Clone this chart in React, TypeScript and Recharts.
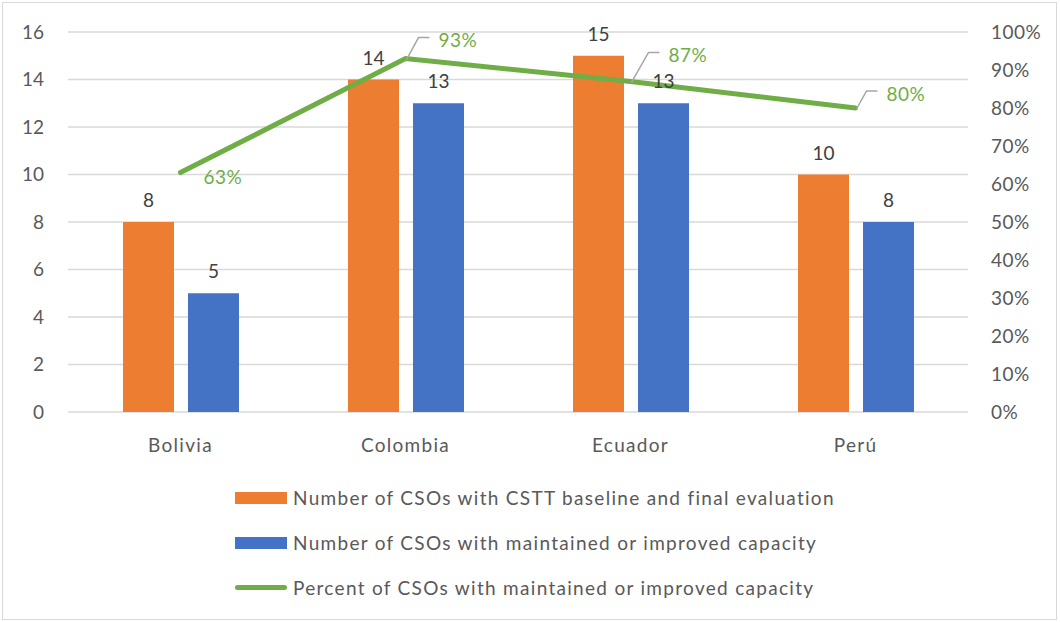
import React from "react";
import {
  ComposedChart,
  Bar,
  Line,
  XAxis,
  YAxis,
  CartesianGrid,
  LabelList,
} from "recharts";

const countries = ["Bolivia", "Colombia", "Ecuador", "Perú"];
const withEvaluation = [8, 14, 15, 10];
const maintainedOrImproved = [5, 13, 13, 8];
const percentMaintained = [0.63, 0.93, 0.87, 0.8];

const countTicks = [0, 2, 4, 6, 8, 10, 12, 14, 16];
const percentTicks = [0, 0.1, 0.2, 0.3, 0.4, 0.5, 0.6, 0.7, 0.8, 0.9, 1];

const seriesNames = [
  "Number of CSOs with CSTT baseline and final evaluation",
  "Number of CSOs with maintained or improved capacity",
  "Percent of CSOs with maintained or improved capacity",
];

const ORANGE = "#ED7D31";
const BLUE = "#4472C4";
const GREEN = "#70AD47";
const TEXT = "#595959";
const LABEL = "#404040";
const FONT = "Lato, 'Noto Sans', sans-serif";
const WORD_SPACING = 1.3;

// elbow of each percent label's leader line, relative to its point (null = no leader)
const leaderElbows: ({ dx: number; dy: number } | null)[] = [
  null,
  { dx: 13, dy: -21 },
  { dx: 18, dy: -29 },
  { dx: 11, dy: -17 },
];

const data = countries.map((c, i) => ({
  country: c,
  total: withEvaluation[i],
  improved: maintainedOrImproved[i],
  pct: percentMaintained[i],
}));

const pctText = (v: number) => `${Math.round(v * 100)}%`;

function PercentLabel(props: any) {
  const { x, y, value, index } = props;
  const elbow = leaderElbows[index];
  const textStyle = {
    fill: GREEN,
    fontSize: 19,
    fontFamily: FONT,
    letterSpacing: 0.5,
  };
  if (!elbow) {
    return (
      <text x={x + 23} y={y + 5} dy="0.35em" style={textStyle}>
        {pctText(value)}
      </text>
    );
  }
  const ex = x + elbow.dx;
  const ey = y + elbow.dy;
  return (
    <g>
      <polyline
        points={`${x + 1},${y + 1} ${ex},${ey} ${ex + 11},${ey}`}
        fill="none"
        stroke="#A6A6A6"
        strokeWidth={1.5}
      />
      <text x={ex + 20} y={ey + 3} dy="0.35em" style={textStyle}>
        {pctText(value)}
      </text>
    </g>
  );
}

function LegendBox() {
  const colors = [ORANGE, BLUE];
  return (
    <div
      style={{
        position: "absolute",
        left: 235,
        top: 475,
        fontFamily: FONT,
        fontSize: 19,
        letterSpacing: WORD_SPACING,
        color: TEXT,
      }}
    >
      {seriesNames.map((name, i) => (
        <div
          key={name}
          style={{ display: "flex", alignItems: "center", height: 45 }}
        >
          {i < 2 ? (
            <span
              style={{
                display: "inline-block",
                width: 52,
                height: 12,
                background: colors[i],
              }}
            />
          ) : (
            <span
              style={{
                display: "inline-block",
                width: 52,
                height: 5,
                borderRadius: 3,
                background: GREEN,
              }}
            />
          )}
          <span style={{ marginLeft: 6, whiteSpace: "nowrap" }}>{name}</span>
        </div>
      ))}
    </div>
  );
}

export default function App() {
  return (
    <div
      style={{
        position: "absolute",
        left: 0,
        top: 0,
        width: 1060,
        height: 622,
        background: "#fff",
      }}
    >
      <div
        style={{
          position: "absolute",
          left: 2,
          top: 2,
          width: 1053,
          height: 616,
          border: "1px solid #D9D9D9",
        }}
      />
      <ComposedChart
        width={1060}
        height={622}
        data={data}
        margin={{ top: 32, right: 22, bottom: 170, left: 8 }}
        barSize={51}
        barGap={14}
      >
        <CartesianGrid
          yAxisId="count"
          vertical={false}
          stroke="#D9D9D9"
          strokeWidth={1.5}
        />
        <XAxis
          dataKey="country"
          axisLine={false}
          tickLine={false}
          tickSize={0}
          tickMargin={27}
          height={40}
          tick={{
            fill: TEXT,
            fontSize: 19,
            fontFamily: FONT,
            style: { letterSpacing: WORD_SPACING },
          }}
        />
        <YAxis
          yAxisId="count"
          orientation="left"
          domain={[0, 16]}
          ticks={countTicks}
          width={60}
          axisLine={false}
          tickLine={false}
          tickSize={0}
          tickMargin={24}
          tick={{ fill: TEXT, fontSize: 19, fontFamily: FONT }}
        />
        <YAxis
          yAxisId="pct"
          orientation="right"
          domain={[0, 1]}
          ticks={percentTicks}
          tickFormatter={pctText}
          width={70}
          axisLine={false}
          tickLine={false}
          tickSize={0}
          tickMargin={23}
          tick={{
            fill: TEXT,
            fontSize: 19,
            fontFamily: FONT,
            textAnchor: "start",
            style: { letterSpacing: 0.5 },
          }}
        />
        <Bar
          yAxisId="count"
          dataKey="total"
          fill={ORANGE}
          isAnimationActive={false}
        >
          <LabelList
            dataKey="total"
            position="top"
            offset={15}
            fill={LABEL}
            fontSize={19}
            fontFamily={FONT}
          />
        </Bar>
        <Bar
          yAxisId="count"
          dataKey="improved"
          fill={BLUE}
          isAnimationActive={false}
        >
          <LabelList
            dataKey="improved"
            position="top"
            offset={15}
            fill={LABEL}
            fontSize={19}
            fontFamily={FONT}
          />
        </Bar>
        <Line
          yAxisId="pct"
          type="linear"
          dataKey="pct"
          stroke={GREEN}
          strokeWidth={5}
          strokeLinecap="round"
          dot={false}
          activeDot={false}
          isAnimationActive={false}
        >
          <LabelList dataKey="pct" content={PercentLabel} />
        </Line>
      </ComposedChart>
      <LegendBox />
    </div>
  );
}
